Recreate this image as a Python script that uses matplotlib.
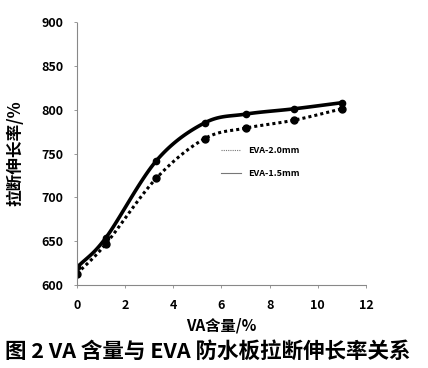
import matplotlib
matplotlib.use("Agg")
import matplotlib.pyplot as plt
import numpy as np
from matplotlib.lines import Line2D

plt.rcParams['font.family'] = ['Noto Sans CJK SC', 'DejaVu Sans']

va = [0, 1.2, 3.3, 5.3, 7.0, 9.0, 11.0]
eva20 = [620, 654, 742, 785, 795, 801, 808]
eva15 = [613, 647, 722, 767, 779, 788, 801]
series_labels = ["EVA-2.0mm", "EVA-1.5mm"]
xticks = [0, 2, 4, 6, 8, 10, 12]
yticks = [600, 650, 700, 750, 800, 850, 900]


def smooth(xs, ys, n=20):
    # Catmull-Rom style smoothing of the drawn line (like a spreadsheet "smoothed line")
    x = np.asarray(xs, float)
    y = np.asarray(ys, float)
    px = np.concatenate([[2 * x[0] - x[1]], x, [2 * x[-1] - x[-2]]])
    py = np.concatenate([[2 * y[0] - y[1]], y, [2 * y[-1] - y[-2]]])
    outx, outy = [], []
    t = np.linspace(0, 1, n, endpoint=False)
    for i in range(1, len(px) - 2):
        for arr, out in ((px, outx), (py, outy)):
            p0, p1, p2, p3 = arr[i - 1], arr[i], arr[i + 1], arr[i + 2]
            m1 = (p2 - p0) / 2
            m2 = (p3 - p1) / 2
            h00 = 2 * t**3 - 3 * t**2 + 1
            h10 = t**3 - 2 * t**2 + t
            h01 = -2 * t**3 + 3 * t**2
            h11 = t**3 - t**2
            out.extend(h00 * p1 + h10 * m1 + h01 * p2 + h11 * m2)
    outx.append(x[-1])
    outy.append(y[-1])
    return outx, outy


fig = plt.figure(figsize=(4.28, 3.68), dpi=100)
ax = fig.add_axes([0.18, 0.2255, 0.675, 0.7145])

sx, sy = smooth(va, eva20)
ax.plot(sx, sy, color='black', lw=2.6)
ax.plot(va, eva20, ls='none', color='black', marker='o', ms=4.5)
sx, sy = smooth(va, eva15)
ax.plot(sx, sy, color='black', lw=2.2, ls=(0, (1, 1)))
ax.plot(va, eva15, ls='none', color='black', marker='o', ms=5)

ax.set_xlim(0, 12)
ax.set_ylim(600, 900)
ax.set_xticks(xticks)
ax.set_yticks(yticks)
for s in ['top', 'right']:
    ax.spines[s].set_visible(False)
for s in ['left', 'bottom']:
    ax.spines[s].set_color('#888888')
    ax.spines[s].set_linewidth(0.8)
    ax.spines[s].set_linestyle((0, (2, 1)))
ax.tick_params(axis='both', length=2, width=0.6, color='#888888', labelsize=9, pad=8)
for lab in ax.get_xticklabels() + ax.get_yticklabels():
    lab.set_fontweight('bold')

ax.set_xlabel("VA含量/%", fontsize=11, fontweight='bold', labelpad=4)
ax.set_ylabel("拉断伸长率/%", fontsize=12, fontweight='bold', labelpad=12)

handles = [Line2D([], [], color='#777777', lw=0.8, ls=(0, (1, 1))),
           Line2D([], [], color='#777777', lw=0.8)]
ax.legend(handles, series_labels, loc='upper left', bbox_to_anchor=(0.47, 0.56),
          frameon=False, prop={'size': 6.5, 'weight': 'bold'}, handlelength=2.2,
          labelspacing=1.6)

fig.text(0.485, 0.045, "图 2 VA 含量与 EVA 防水板拉断伸长率关系", ha='center', va='center',
         fontsize=15.5, fontweight='bold')

fig.savefig("out.png", dpi=100)
